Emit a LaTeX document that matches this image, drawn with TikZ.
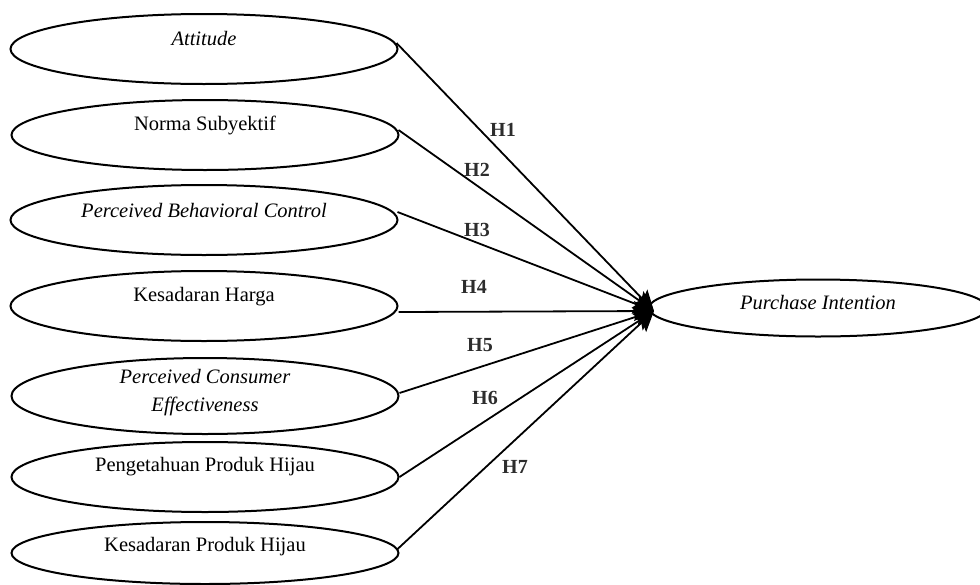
\documentclass[tikz,border=0pt]{standalone}
\usepackage{fontspec}
\setmainfont{Liberation Serif}
\usetikzlibrary{shapes.geometric,arrows.meta}
\tikzset{
  oval/.style={draw, line width=2pt, ellipse, inner sep=0pt, minimum width=387pt, minimum height=70pt},
  txt/.style={font=\fontsize{20.5}{24}\selectfont, inner sep=0pt, align=center},
  hlab/.style={font=\fontsize{20}{24}\selectfont\bfseries, text={rgb,255:red,45;green,45;blue,45}, inner sep=0pt},
  link/.style={line width=1.8pt, -{Stealth[length=20pt, width=20pt, inset=4pt]}}
}
\begin{document}
\begin{tikzpicture}[x=1pt,y=-1pt]
\useasboundingbox (0,0) rectangle (980,584);
\node[oval] (a) at (204,49) {};
\node[txt] at ([yshift=10pt]a.center) {\textit{Attitude}};
\node[oval] (b) at (205,135) {};
\node[txt] at ([yshift=10pt]b.center) {Norma Subyektif};
\node[oval] (c) at (204,220) {};
\node[txt] at ([yshift=10pt]c.center) {\textit{Perceived Behavioral Control}};
\node[oval] (d) at (204,306) {};
\node[txt] at ([yshift=9pt]d.center) {Kesadaran Harga};
\node[oval, minimum height=76pt] (e) at (205,396) {};
\node[txt] at ([yshift=3pt]e.center) {\textit{Perceived Consumer}\\[4pt]\textit{Effectiveness}};
\node[oval] (f) at (205,477) {};
\node[txt] at ([yshift=10pt]f.center) {Pengetahuan Produk Hijau};
\node[oval, minimum height=62pt] (g) at (205,553) {};
\node[txt] at ([yshift=6pt]g.center) {Kesadaran Produk Hijau};
\node[oval, minimum width=338pt, minimum height=57pt] (p) at (818,308) {};
\node[txt] at ([yshift=5pt]p.center) {\textit{Purchase Intention}};
\coordinate (t) at (654,311);
\draw[link] (a.east) ++(-2pt,6pt) -- (t);
\draw[link] (b.east) ++(-1pt,5pt) -- (t);
\draw[link] (c.east) ++(-1pt,8pt) -- (t);
\draw[link] (d.east) ++(0pt,-6pt) -- (t);
\draw[link] (e.east) ++(0pt,3pt) -- (t);
\draw[link] (f.east) -- (t);
\draw[link] (g.east) ++(-3pt,3pt) -- (t);
\node[hlab] at (503,130) {H1};
\node[hlab] at (477,170) {H2};
\node[hlab] at (477,230) {H3};
\node[hlab] at (474,287) {H4};
\node[hlab] at (480,345) {H5};
\node[hlab] at (485,398) {H6};
\node[hlab] at (515,467) {H7};
\end{tikzpicture}
\end{document}
